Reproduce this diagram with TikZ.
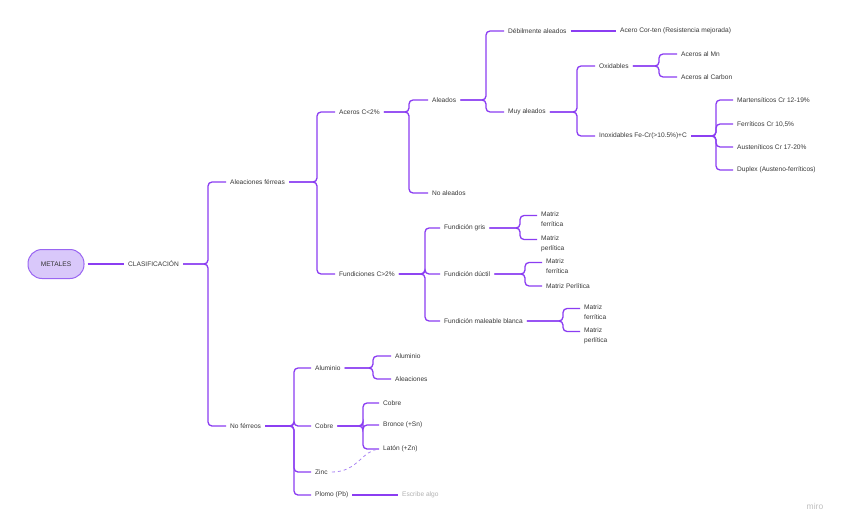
\documentclass[tikz,border=0pt]{standalone}
\usepackage{fontspec}
\setmainfont{Liberation Sans}
\begin{document}
\begin{tikzpicture}[x=1pt,y=-1pt,
  t/.style={font=\fontsize{6.6}{10}\selectfont, text=black!78, inner sep=1pt, anchor=west},
  t2/.style={t, anchor=north west, align=left},
  conn/.style={draw=lineviolet, line width=1.3pt, rounded corners=4pt, shorten <=3pt, shorten >=3pt},
  pill/.style={draw=pillborder, fill=pillfill, line width=1pt, rounded corners=14pt, minimum width=56pt, minimum height=29pt, font=\fontsize{6.6}{8}\selectfont, text=black!80}
]
\definecolor{lineviolet}{HTML}{8B3DF2}
\definecolor{pillfill}{HTML}{D9C8FA}
\definecolor{pillborder}{HTML}{9A66F2}
\definecolor{dashviolet}{HTML}{A983F5}
\useasboundingbox (0,0) rectangle (848,530);
\fill[white] (0,0) rectangle (848,530);
\newcommand\brc[3]{\draw[conn] (#1.east) -- (#2 |- #1.east) -- (#2 |- #3) -- (#3);}

% nodes
\node[pill] (root) at (56,264) {METALES};
\node[t] (cla) at (127,264) {CLASIFICACIÓN};
\node[t] (afe) at (229,182) {Aleaciones férreas};
\node[t] (nfe) at (229,426) {No férreos};
\node[t] (ace) at (338,112) {Aceros C<2\%};
\node[t] (fun) at (338,274) {Fundiciones C>2\%};
\node[t] (ale) at (431,100) {Aleados};
\node[t] (nal) at (431,193) {No aleados};
\node[t] (deb) at (507,31) {Débilmente aleados};
\node[t] (muy) at (507,112) {Muy aleados};
\node[t] (cor) at (619,31) {Acero Cor-ten (Resistencia mejorada)};
\node[t] (oxi) at (598,66) {Oxidables};
\node[t] (ino) at (598,136) {Inoxidables Fe-Cr(>10.5\%)+C};
\node[t] (amn) at (680,54) {Aceros al Mn};
\node[t] (aca) at (680,77) {Aceros al Carbon};
\node[t] (mar) at (736,100) {Martensíticos Cr 12-19\%};
\node[t] (fer) at (736,124) {Ferríticos Cr 10,5\%};
\node[t] (aus) at (736,147) {Austeníticos Cr 17-20\%};
\node[t] (dup) at (736,170) {Duplex (Austeno-ferríticos)};
\node[t] (fgr) at (443,228) {Fundición gris};
\node[t] (fdu) at (443,274) {Fundición dúctil};
\node[t] (fma) at (443,321) {Fundición maleable blanca};
\node[t2] (m1) at (540,211) {Matriz\\ferrítica};
\node[t2] (m2) at (540,235) {Matriz\\perlítica};
\node[t2] (m3) at (545,258) {Matriz\\ferrítica};
\node[t] (m4) at (545,286) {Matriz Perlítica};
\node[t2] (m5) at (583,304) {Matriz\\ferrítica};
\node[t2] (m6) at (583,327) {Matriz\\perlítica};
\node[t] (alu) at (314,368) {Aluminio};
\node[t] (cob) at (314,426) {Cobre};
\node[t] (zin) at (314,472) {Zinc};
\node[t] (plo) at (314,495) {Plomo (Pb)};
\node[t] (al1) at (394,356) {Aluminio};
\node[t] (al2) at (394,379) {Aleaciones};
\node[t] (cu1) at (382,403) {Cobre};
\node[t] (cu2) at (382,425) {Bronce (+Sn)};
\node[t] (cu3) at (382,449) {Latón (+Zn)};
\node[t, text=black!30] (esc) at (401,495) {Escribe algo};
\node[font=\fontsize{8.5}{10}\selectfont, text=black!25, inner sep=0pt] (miro) at (815,506) {miro};

% first-line anchor points of two-line nodes
\coordinate (m1c) at ([yshift=-4.5pt]m1.north west);
\coordinate (m2c) at ([yshift=-4.5pt]m2.north west);
\coordinate (m3c) at ([yshift=-4.5pt]m3.north west);
\coordinate (m5c) at ([yshift=-4.5pt]m5.north west);
\coordinate (m6c) at ([yshift=-4.5pt]m6.north west);

% spines
\coordinate (s1) at (208,0);
\coordinate (s2) at (317,0);
\coordinate (s3) at (409,0);
\coordinate (s4) at (486,0);
\coordinate (s5) at (577,0);
\coordinate (s6) at (659,0);
\coordinate (s7) at (716,0);
\coordinate (s8) at (425,0);
\coordinate (s9) at (520,0);
\coordinate (s10) at (525,0);
\coordinate (s11) at (563,0);
\coordinate (s12) at (294,0);
\coordinate (s13) at (373,0);
\coordinate (s14) at (363,0);

% connectors
\draw[conn] (root) -- (cla);
\brc{cla}{s1}{afe.west}
\brc{cla}{s1}{nfe.west}
\brc{afe}{s2}{ace.west}
\brc{afe}{s2}{fun.west}
\brc{ace}{s3}{ale.west}
\brc{ace}{s3}{nal.west}
\brc{ale}{s4}{deb.west}
\brc{ale}{s4}{muy.west}
\draw[conn] (deb) -- (cor);
\brc{muy}{s5}{oxi.west}
\brc{muy}{s5}{ino.west}
\brc{oxi}{s6}{amn.west}
\brc{oxi}{s6}{aca.west}
\brc{ino}{s7}{mar.west}
\brc{ino}{s7}{fer.west}
\brc{ino}{s7}{aus.west}
\brc{ino}{s7}{dup.west}
\brc{fun}{s8}{fgr.west}
\brc{fun}{s8}{fdu.west}
\brc{fun}{s8}{fma.west}
\brc{fgr}{s9}{m1c}
\brc{fgr}{s9}{m2c}
\brc{fdu}{s10}{m3c}
\brc{fdu}{s10}{m4.west}
\brc{fma}{s11}{m5c}
\brc{fma}{s11}{m6c}
\brc{nfe}{s12}{alu.west}
\brc{nfe}{s12}{cob.west}
\brc{nfe}{s12}{zin.west}
\brc{nfe}{s12}{plo.west}
\brc{alu}{s13}{al1.west}
\brc{alu}{s13}{al2.west}
\brc{cob}{s14}{cu1.west}
\brc{cob}{s14}{cu2.west}
\brc{cob}{s14}{cu3.west}
\draw[conn] (plo) -- (esc);
\draw[draw=dashviolet, line width=0.8pt, dashed, shorten <=3pt, shorten >=3pt] (zin.east) .. controls (358,472) and (362,450) .. (cu3.west);
\end{tikzpicture}
\end{document}
